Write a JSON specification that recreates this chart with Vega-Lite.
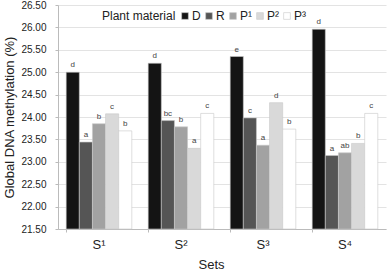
{
  "$schema": "https://vega.github.io/schema/vega-lite/v6.json",
  "width": 328,
  "height": 224,
  "autosize": {"type": "none"},
  "padding": {"left": 58, "top": 5, "right": 1, "bottom": 41},
  "background": "white",
  "config": {
    "font": "Liberation Sans",
    "view": {"stroke": null}
  },
  "data": {
    "values": [
      {"set": "S¹", "mat": "D", "val": 25.00, "grp": "d"},
      {"set": "S¹", "mat": "R", "val": 23.44, "grp": "a"},
      {"set": "S¹", "mat": "P¹", "val": 23.85, "grp": "b"},
      {"set": "S¹", "mat": "P²", "val": 24.07, "grp": "c"},
      {"set": "S¹", "mat": "P³", "val": 23.69, "grp": "b"},
      {"set": "S²", "mat": "D", "val": 25.20, "grp": "d"},
      {"set": "S²", "mat": "R", "val": 23.92, "grp": "bc"},
      {"set": "S²", "mat": "P¹", "val": 23.78, "grp": "b"},
      {"set": "S²", "mat": "P²", "val": 23.30, "grp": "a"},
      {"set": "S²", "mat": "P³", "val": 24.08, "grp": "c"},
      {"set": "S³", "mat": "D", "val": 25.35, "grp": "e"},
      {"set": "S³", "mat": "R", "val": 23.98, "grp": "c"},
      {"set": "S³", "mat": "P¹", "val": 23.37, "grp": "a"},
      {"set": "S³", "mat": "P²", "val": 24.32, "grp": "d"},
      {"set": "S³", "mat": "P³", "val": 23.73, "grp": "b"},
      {"set": "S⁴", "mat": "D", "val": 25.96, "grp": "d"},
      {"set": "S⁴", "mat": "R", "val": 23.14, "grp": "a"},
      {"set": "S⁴", "mat": "P¹", "val": 23.20, "grp": "ab"},
      {"set": "S⁴", "mat": "P²", "val": 23.41, "grp": "b"},
      {"set": "S⁴", "mat": "P³", "val": 24.08, "grp": "c"}
    ]
  },
  "encoding": {
    "x": {
      "field": "set", "type": "nominal",
      "sort": ["S¹", "S²", "S³", "S⁴"],
      "scale": {"paddingInner": 0.2, "paddingOuter": 0.1},
      "axis": {
        "title": "Sets", "titleFontSize": 13, "titleFontWeight": "normal", "titleColor": "#222",
        "titleX": 153, "titleY": 29, "titleBaseline": "top",
        "labelAngle": 0, "labelFontSize": 13, "labelColor": "#222", "labelPadding": 6,
        "domainColor": "#bbbbbb", "tickColor": "#bbbbbb", "tickSize": 3, "bandPosition": 0,
        "grid": false
      }
    },
    "xOffset": {"field": "mat", "type": "nominal", "sort": ["D", "R", "P¹", "P²", "P³"], "scale": {"paddingInner": 0}},
    "y": {
      "field": "val", "type": "quantitative",
      "scale": {"domain": [21.5, 26.5], "zero": false, "clamp": true},
      "axis": {
        "title": "Global DNA methylation (%)", "titleFontSize": 13, "titleFontWeight": "normal", "titleColor": "#222",
        "titlePadding": 4,
        "values": [21.5, 22, 22.5, 23, 23.5, 24, 24.5, 25, 25.5, 26, 26.5],
        "format": ".2f", "labelFontSize": 10, "labelColor": "#222", "labelPadding": 9,
        "domainColor": "#bbbbbb", "tickColor": "#bbbbbb", "tickSize": 3,
        "gridColor": "#e3e3e3"
      }
    }
  },
  "layer": [
    {
      "mark": {"type": "bar", "stroke": "#c8c8c8", "strokeWidth": 0.6},
      "encoding": {
        "y2": {"datum": 21.5},
        "fill": {
          "field": "mat", "type": "nominal",
          "scale": {"domain": ["D", "R", "P¹", "P²", "P³"], "range": ["#141414", "#555555", "#a2a2a2", "#d9d9d9", "#ffffff"]},
          "legend": {
            "orient": "none", "legendX": 44, "legendY": 5, "direction": "horizontal", "columns": 5,
            "title": "Plant material", "titleOrient": "left", "titleFontSize": 12, "titleFontWeight": "normal",
            "titleColor": "#222", "titlePadding": 3, "titleBaseline": "middle",
            "labelFontSize": 12, "labelColor": "#222", "labelOffset": 1,
            "symbolType": "square", "symbolSize": 45, "symbolStrokeColor": "#c8c8c8", "symbolStrokeWidth": 0.6,
            "columnPadding": 2
          }
        }
      }
    },
    {
      "mark": {"type": "text", "dy": -7, "fontSize": 8, "color": "#444"},
      "encoding": {"text": {"field": "grp"}}
    }
  ]
}
